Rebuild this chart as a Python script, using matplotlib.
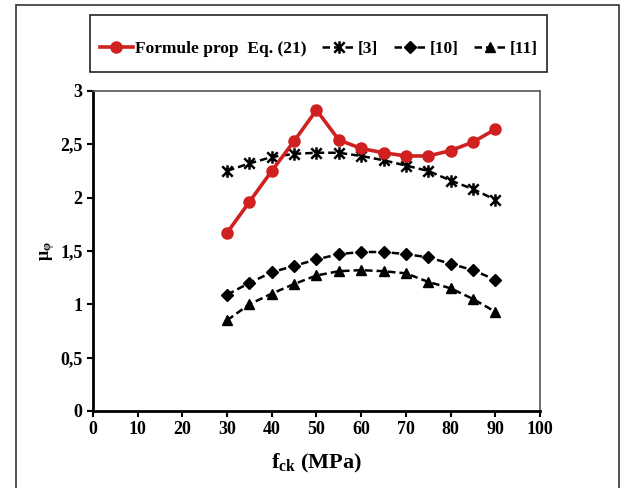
import matplotlib
matplotlib.use('Agg')
import matplotlib.pyplot as plt
from matplotlib.patches import Rectangle
from matplotlib.path import Path
from matplotlib.ticker import FuncFormatter

fck = [30, 35, 40, 45, 50, 55, 60, 65, 70, 75, 80, 85, 90]
mu_prop = [1.67, 1.96, 2.25, 2.53, 2.82, 2.54, 2.46, 2.42, 2.39, 2.39, 2.44, 2.52, 2.64]
mu_3 = [2.25, 2.32, 2.38, 2.41, 2.42, 2.42, 2.39, 2.35, 2.30, 2.25, 2.16, 2.08, 1.98]
mu_10 = [1.09, 1.20, 1.30, 1.36, 1.42, 1.47, 1.49, 1.49, 1.47, 1.44, 1.38, 1.32, 1.23]
mu_11 = [0.85, 1.00, 1.10, 1.19, 1.27, 1.31, 1.32, 1.31, 1.29, 1.21, 1.15, 1.05, 0.93]

plt.rcParams['font.family'] = 'Liberation Serif'
plt.rcParams['font.weight'] = 'bold'
plt.rcParams['mathtext.fontset'] = 'custom'
plt.rcParams['mathtext.rm'] = 'Liberation Serif:bold'
plt.rcParams['mathtext.it'] = 'Liberation Serif:bold'
plt.rcParams['mathtext.bf'] = 'Liberation Serif:bold'

# excel-like star marker: x plus vertical bar
star = Path([(-1, -1), (1, 1), (-1, 1), (1, -1), (0, -1.2), (0, 1.2)],
            [Path.MOVETO, Path.LINETO, Path.MOVETO, Path.LINETO, Path.MOVETO, Path.LINETO])

fig = plt.figure(figsize=(6.3, 4.88), dpi=100)
ax = fig.add_axes([0.1476, 0.1578, 0.7095, 0.656])

# outer frame around whole figure
fig.patches.append(Rectangle((16/630, -0.02), (619-16)/630, 1.02 - 5/488,
                             transform=fig.transFigure, fill=False,
                             edgecolor='#333333', linewidth=1.2))

dash = (3.0, 1.6)
ax.plot(fck, mu_prop, color='#d02020', lw=2.6, marker='o', ms=8,
        label='Formule prop  Eq. (21)', zorder=5)
ax.plot(fck, mu_3, color='black', lw=1.8, ls=(0, dash), marker=star, ms=9,
        mew=1.8, label='[3]')
ax.plot(fck, mu_10, color='black', lw=1.8, ls=(0, dash), marker='D', ms=6,
        label='[10]')
ax.plot(fck, mu_11, color='black', lw=1.8, ls=(0, dash), marker='^', ms=7,
        label='[11]')

ax.set_xlim(0, 100)
ax.set_ylim(0, 3)
ax.set_xticks(range(0, 101, 10))
ax.set_yticks([0, 0.5, 1, 1.5, 2, 2.5, 3])
ax.yaxis.set_major_formatter(FuncFormatter(lambda v, p: ('%g' % v).replace('.', ',')))
ax.tick_params(direction='out', length=4, width=1.5, labelsize=13)
for s in ['left', 'bottom']:
    ax.spines[s].set_linewidth(2)
    ax.spines[s].set_color('black')
for s in ['top', 'right']:
    ax.spines[s].set_linewidth(1.2)
    ax.spines[s].set_color('#555555')

ax.set_xlabel(r'f$_{\mathregular{ck}}$ (MPa)', fontsize=16, fontweight='bold', labelpad=10)
ax.set_ylabel(r'$\mu_{\varphi}$', fontsize=13, fontweight='bold', labelpad=2)

leg = fig.legend(loc='center', bbox_to_anchor=(90/630, (488-77)/488, 457/630, 57/488),
                 ncol=4, fancybox=False, framealpha=0, fontsize=12.5,
                 handlelength=1.9, handletextpad=0.15,
                 columnspacing=0.9, borderaxespad=0.0, borderpad=0.0)
leg.get_frame().set_visible(False)
frame = Rectangle((90/630, (488-72)/488), 457/630, 57/488, transform=fig.transFigure,
                  fill=False, edgecolor='#222222', linewidth=1.2)
fig.patches.append(frame)

fig.savefig('out.png', dpi=100)
